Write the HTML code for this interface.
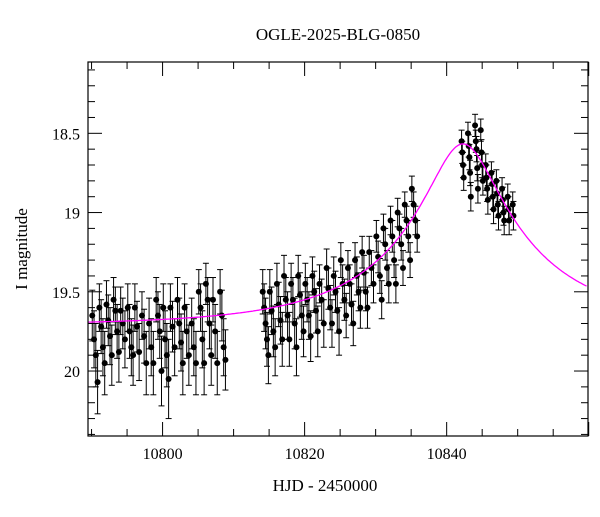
<!DOCTYPE html>
<html><head><meta charset="utf-8"><style>
body{margin:0;background:#fff}
svg text{font-family:"Liberation Serif",serif;fill:#000}
</style></head><body>
<svg id="chart" width="600" height="512" xmlns="http://www.w3.org/2000/svg">
<rect width="600" height="512" fill="#fff"/>
<text x="338" y="40" text-anchor="middle" font-size="17">OGLE-2025-BLG-0850</text>
<text x="325" y="491" text-anchor="middle" font-size="17">HJD - 2450000</text>
<text transform="translate(27,249) rotate(-90)" text-anchor="middle" font-size="17">I magnitude</text>
<g id="ticks"></g>
<g id="marks"></g>
<rect x="88" y="62" width="500" height="374" fill="none" stroke="#000" stroke-width="1.2"/>
</svg>
<script>
const xTicks=[10800,10820,10840];
const yTicks=[18.5,19,19.5,20];
const obsTimes=[
10790.1,10790.35,10790.6,10790.85, 10791.1,10791.35,10791.6,10791.85, 10792.1,10792.35,10792.6,10792.85,
10793.1,10793.35,10793.6,10793.85, 10794.1,10794.4,10794.7, 10795.1,10795.35,10795.6,10795.85,
10796.1,10796.4,10796.7, 10797.1,10797.4,10797.7, 10798.1,10798.4,10798.7, 10799.1,10799.35,10799.6,10799.85,
10800.1,10800.35,10800.6,10800.85, 10801.1,10801.4,10801.7, 10802.1,10802.35,10802.6,10802.85,
10803.1,10803.4,10803.7, 10804.1,10804.4,10804.7, 10805.1,10805.35,10805.6,10805.85,
10806.1,10806.35,10806.6,10806.85, 10807.1,10807.4,10807.7, 10808.1,10808.35,10808.6,10808.85,
10814.1,10814.3,10814.5,10814.7,10814.9, 10815.1,10815.35,10815.6,10815.85, 10816.1,10816.35,10816.6,10816.85,
10817.1,10817.35,10817.6,10817.85, 10818.1,10818.35,10818.6,10818.85, 10819.1,10819.35,10819.6,10819.85,
10820.1,10820.35,10820.6,10820.85, 10821.1,10821.35,10821.6,10821.85, 10822.1,10822.4,10822.7,
10823.1,10823.35,10823.6,10823.85, 10824.1,10824.35,10824.6,10824.85, 10825.1,10825.35,10825.6,10825.85,
10826.1,10826.35,10826.6,10826.85, 10827.1,10827.35,10827.6,10827.85, 10828.1,10828.35,10828.6,10828.85,
10829.1,10829.4,10829.7, 10830.1,10830.35,10830.6,10830.85, 10831.1,10831.35,10831.6,10831.85,
10832.1,10832.35,10832.6,10832.85, 10833.1,10833.35,10833.6,10833.85, 10834.1,10834.35,10834.6,10834.85,
10835.1,10835.35,10835.6,10835.85,
10842.1,10842.2,10842.3,10842.4, 10843.0,10843.1,10843.2,10843.3,10843.4, 10844.0,10844.1,10844.2,10844.3,10844.4,
10844.8,10844.9,10845.0,10845.1, 10845.5,10845.6,10845.7,10845.8, 10846.3,10846.4,10846.5,10846.6,
10847.0,10847.1,10847.2,10847.3, 10847.8,10847.9,10848.0,10848.1, 10848.6,10848.7,10848.8, 10849.3,10849.4];
const obsMags=[
19.65,19.8,19.9,20.07, 19.6,19.72,19.85,19.95, 19.58,19.68,19.78,19.9,
19.55,19.62,19.75,19.88, 19.62,19.7,19.8, 19.6,19.75,19.85,19.9,
19.6,19.72,19.88, 19.65,19.78,19.95, 19.7,19.85,19.95, 19.55,19.65,19.75,20.0,
19.6,19.8,19.9,20.05, 19.6,19.72,19.85, 19.55,19.7,19.82,19.95,
19.6,19.75,19.9, 19.7,19.85,19.95, 19.5,19.6,19.8,19.95,
19.45,19.55,19.7,19.9, 19.55,19.75,19.95, 19.5,19.65,19.85,19.93,
19.5,19.6,19.7,19.8,19.9, 19.5,19.62,19.75,19.85, 19.45,19.58,19.68,19.8,
19.4,19.55,19.65,19.8, 19.45,19.55,19.7,19.85, 19.4,19.52,19.65,19.75,
19.45,19.55,19.65,19.78, 19.4,19.5,19.62,19.75, 19.45,19.55,19.7,
19.35,19.48,19.6,19.7, 19.4,19.5,19.62,19.75, 19.3,19.45,19.55,19.65,
19.35,19.45,19.58,19.7, 19.3,19.4,19.5,19.6, 19.25,19.38,19.5,19.6,
19.25,19.35,19.45, 19.15,19.28,19.4,19.55, 19.1,19.2,19.35,19.45,
19.05,19.15,19.3,19.45, 19.0,19.1,19.2,19.35, 18.95,19.05,19.15,19.3,
18.85,18.95,19.05,19.15,
18.55,18.62,18.7,18.78, 18.5,18.58,18.65,18.75,18.9, 18.45,18.55,18.6,18.72,18.85,
18.48,18.62,18.7,18.8, 18.7,18.78,18.85,18.92, 18.75,18.82,18.9,18.98,
18.8,18.88,18.95,19.02, 18.85,18.92,19.0,19.05, 18.9,18.98,19.05, 18.95,19.02];
const obsErrs=[
0.16,0.18,0.2,0.2, 0.15,0.17,0.18,0.2, 0.15,0.16,0.18,0.19,
0.14,0.15,0.17,0.19, 0.15,0.16,0.18, 0.15,0.17,0.18,0.19,
0.15,0.16,0.18, 0.15,0.17,0.2, 0.16,0.18,0.2, 0.14,0.15,0.17,0.22,
0.15,0.18,0.2,0.25, 0.15,0.16,0.18, 0.14,0.16,0.18,0.2,
0.15,0.17,0.19, 0.16,0.18,0.2, 0.14,0.15,0.18,0.2,
0.13,0.14,0.16,0.19, 0.14,0.17,0.2, 0.14,0.16,0.18,0.19,
0.14,0.15,0.16,0.17,0.18, 0.14,0.15,0.16,0.18, 0.13,0.14,0.15,0.17,
0.13,0.14,0.15,0.17, 0.13,0.14,0.16,0.18, 0.13,0.14,0.15,0.16,
0.13,0.14,0.15,0.16, 0.12,0.13,0.14,0.16, 0.12,0.13,0.15,
0.12,0.13,0.14,0.15, 0.12,0.13,0.14,0.15, 0.11,0.12,0.13,0.14,
0.11,0.12,0.13,0.14, 0.11,0.12,0.12,0.13, 0.1,0.11,0.12,0.13,
0.1,0.11,0.12, 0.1,0.1,0.11,0.12, 0.09,0.1,0.11,0.12,
0.09,0.1,0.11,0.12, 0.09,0.09,0.1,0.11, 0.08,0.09,0.1,0.11,
0.08,0.08,0.09,0.1,
0.07,0.07,0.08,0.08, 0.07,0.07,0.08,0.08,0.09, 0.07,0.07,0.08,0.08,0.09,
0.07,0.08,0.08,0.09, 0.07,0.08,0.08,0.09, 0.07,0.08,0.08,0.09,
0.07,0.08,0.08,0.09, 0.07,0.08,0.08,0.09, 0.08,0.08,0.09, 0.08,0.09];
const modelParams=[10842.3,22,0.215,0.5,19.71]; // t0, tE, u0, fs, baseline mag

const NS='http://www.w3.org/2000/svg';
const X0=88,X1=588,Y0=62,Y1=436, tMin=10789.5,tMax=10859.9, mMin=18.05,mMax=20.41;
const xs=t=>X0+(t-tMin)/(tMax-tMin)*(X1-X0);
const ys=m=>Y0+(m-mMin)/(mMax-mMin)*(Y1-Y0);
function mk(tag,attrs,parent){const e=document.createElementNS(NS,tag);for(const k in attrs)e.setAttribute(k,attrs[k]);parent.appendChild(e);return e;}
const tg=document.getElementById('ticks'), mg=document.getElementById('marks');
for(let t=10790;t<=10860;t+=5){
  const x=xs(t), L=(t%20===0)?14:7;
  const a=mk('line',{x1:x,x2:x,y1:Y1,y2:Y1-L,stroke:'#000'},tg);
  
  
  const b=mk('line',{x1:x,x2:x,y1:Y0,y2:Y0+L,stroke:'#000'},tg);
  
  
}
xTicks.forEach(t=>{const e=mk('text',{x:xs(t),y:Y1+23,'text-anchor':'middle','font-size':16},tg);e.textContent=t;
  
  });
for(let i=181;i<=240;i++){const m=i/10;if(m<mMin||m>mMax)continue;
  const y=ys(m),L=(i%5===0)?14:7;
  const a=mk('line',{x1:X0,x2:X0+L,y1:y,y2:y,stroke:'#000'},tg);
  
  
  const b=mk('line',{x1:X1,x2:X1-L,y1:y,y2:y,stroke:'#000'},tg);
  
  }
yTicks.forEach(m=>{const e=mk('text',{x:X0-8,y:ys(m)+6,'text-anchor':'end','font-size':16},tg);e.textContent=m;
  
  });
const [t0,tE,u0,fs,base]=modelParams;
function modelMag(t){const u=Math.sqrt(u0*u0+((t-t0)/tE)**2);const A=(u*u+2)/(u*Math.sqrt(u*u+4));return base-2.5*Math.log10(fs*A+1-fs);}
let d='';for(let t=tMin;t<=tMax;t+=0.2){d+=(d?'L':'M')+xs(t).toFixed(1)+','+ys(modelMag(t)).toFixed(1);}
obsTimes.forEach((t,i)=>{
  const x=xs(t),m=obsMags[i],e=obsErrs[i];
  const g=mk('g',{},mg);
  
  
  mk('line',{x1:x,x2:x,y1:ys(m-e),y2:ys(m+e),stroke:'#000','stroke-width':1},g);
  mk('line',{x1:x-3,x2:x+3,y1:ys(m-e),y2:ys(m-e),stroke:'#000'},g);
  mk('line',{x1:x-3,x2:x+3,y1:ys(m+e),y2:ys(m+e),stroke:'#000'},g);
  mk('circle',{cx:x,cy:ys(m),r:3,fill:'#000'},g);
});
const p=mk('path',{d:d,fill:'none',stroke:'#ff00ff','stroke-width':1.3},mg);


</script>
</body></html>
